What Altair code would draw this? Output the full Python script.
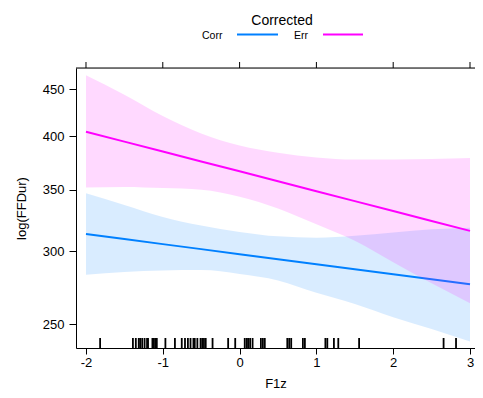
import altair as alt
import pandas as pd

# ---- data ----
x_grid = [-2, -1.5, -1, -0.5, 0, 0.5, 1, 1.5, 2, 2.5, 3]

corr_fit = [313.3, 309.4, 305.5, 301.7, 297.9, 294.2, 290.5, 286.9, 283.3, 279.8, 276.3]
corr_lower = [283, 285, 286, 286.3, 283.5, 279, 270.5, 263, 254.5, 247, 239.4]
corr_upper = [347, 337, 327, 320, 315, 311.5, 310.5, 312, 314.5, 317, 318.3]

err_fit = [404.7, 394.8, 385.1, 375.7, 366.5, 357.5, 348.7, 340.2, 331.9, 323.7, 315.8]
err_lower = [352, 352.5, 351.5, 350, 344, 334, 321, 308, 292, 277, 263.5]
err_upper = [466, 444, 421, 403, 391, 384, 379.5, 377.5, 377.5, 378, 379]

rug_x = [-1.816, -1.389, -1.351, -1.313, -1.294, -1.268, -1.237, -1.205, -1.192,
         -1.135, -1.116, -1.097, -1.078, -0.966, -0.842, -0.753, -0.711, -0.673,
         -0.639, -0.601, -0.584, -0.550, -0.508, -0.486, -0.464, -0.441, -0.352,
         -0.149, -0.057, 0.067, 0.093, 0.112, 0.137, 0.169, 0.277, 0.303, 0.328,
         0.621, 0.646, 0.672, 0.824, 0.850, 1.117, 1.142, 1.228, 1.285, 1.556,
         2.656, 2.818]

x_ticks = [-2, -1, 0, 1, 2, 3]
y_ticks = [250, 300, 350, 400, 450]
groups = ["Corr", "Err"]
colors = ["#0080ff", "#ff00ff"]
legend_title = "Corrected"

rows = []
for g, fit, lo, hi in [("Corr", corr_fit, corr_lower, corr_upper),
                       ("Err", err_fit, err_lower, err_upper)]:
    for xv, f, l, h in zip(x_grid, fit, lo, hi):
        rows.append({"group": g, "x": xv, "fit": f, "lower": l, "upper": h})
df = pd.DataFrame(rows)
rug_df = pd.DataFrame({"x": rug_x})
tick_df = pd.DataFrame({"x": x_ticks})
one_df = pd.DataFrame({"k": [0]})

W, H = 399, 280
FONT = "Liberation Sans"

xscale = alt.Scale(domain=[-2.130, 3.065], nice=False, zero=False)
yscale = alt.Scale(type="log", domain=[235.6, 474.6], nice=False, zero=False)

xaxis = alt.Axis(values=x_ticks, title="F1z", grid=False, tickSize=6, labelPadding=2,
                 labelExpr="'' + datum.value",
                 domainColor="black", tickColor="black", labelColor="black",
                 titleColor="black", labelFontSize=13, titleFontSize=13,
                 titleFontWeight="normal", titlePadding=8, labelFont=FONT, titleFont=FONT)
yaxis = alt.Axis(values=y_ticks, title="log(FFDur)", grid=False, tickSize=7, labelPadding=5,
                 domainColor="black", tickColor="black", labelColor="black",
                 titleColor="black", labelFontSize=13, titleFontSize=13,
                 titleFontWeight="normal", titlePadding=14, labelFont=FONT, titleFont=FONT)

X = alt.X("x:Q", scale=xscale, axis=xaxis)

layers = []
for g, c in zip(groups, colors):
    sub = df[df.group == g]
    band = alt.Chart(sub).mark_area(color=c, opacity=0.15, interpolate="monotone").encode(
        x=X,
        y=alt.Y("lower:Q", scale=yscale, axis=yaxis),
        y2="upper:Q",
    )
    line = alt.Chart(sub).mark_line(color=c, strokeWidth=2).encode(
        x=X,
        y=alt.Y("fit:Q", scale=yscale, axis=yaxis),
    )
    layers += [band, line]

rug = alt.Chart(rug_df).mark_rule(color="black", strokeWidth=1.8).encode(
    x=X, y=alt.value(270), y2=alt.value(H))

top_ticks = alt.Chart(tick_df).mark_rule(color="black", strokeWidth=1).encode(
    x=X, y=alt.value(-6), y2=alt.value(0))

top_frame = alt.Chart(one_df).mark_rule(color="black", strokeWidth=1).encode(
    x=alt.value(0), x2=alt.value(W + 5), y=alt.value(0))

txt = dict(font=FONT, fill="black", fontWeight="normal", baseline="alphabetic")

leg_title = alt.Chart(one_df).mark_text(
    text=legend_title, fontSize=14, align="center", **txt
).encode(x=alt.value(206), y=alt.value(-43))

leg_corr_txt = alt.Chart(one_df).mark_text(
    text=groups[0], fontSize=10.5, align="left", **txt
).encode(x=alt.value(126), y=alt.value(-29))
leg_corr_line = alt.Chart(one_df).mark_rule(color=colors[0], strokeWidth=2).encode(
    x=alt.value(161), x2=alt.value(202), y=alt.value(-33.5))
leg_err_txt = alt.Chart(one_df).mark_text(
    text=groups[1], fontSize=10.5, align="left", **txt
).encode(x=alt.value(218), y=alt.value(-29))
leg_err_line = alt.Chart(one_df).mark_rule(color=colors[1], strokeWidth=2).encode(
    x=alt.value(247), x2=alt.value(287), y=alt.value(-33.5))

chart = alt.layer(
    *layers, rug, top_ticks, top_frame,
    leg_title, leg_corr_txt, leg_corr_line, leg_err_txt, leg_err_line
).properties(
    width=W, height=H,
    padding={"left": 68, "top": 60, "right": 0, "bottom": 42},
    autosize=alt.AutoSizeParams(type="none"),
).configure_view(strokeWidth=0).configure(font=FONT)

chart.save("out.html", embed_options={"renderer": "svg", "actions": False})
